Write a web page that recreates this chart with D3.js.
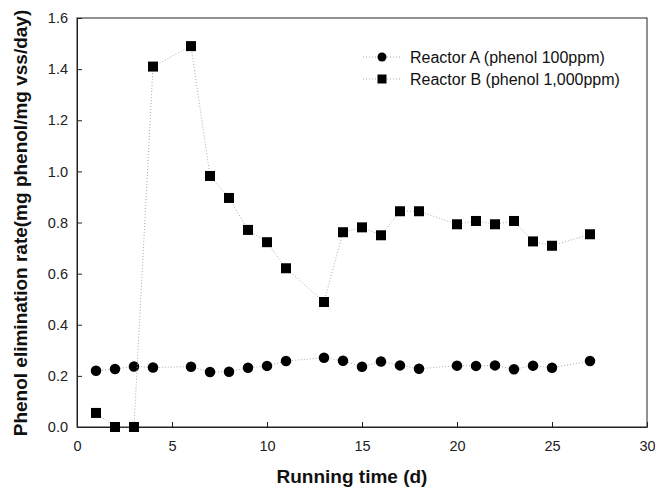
<!DOCTYPE html>
<html>
<head>
<meta charset="utf-8">
<script src="https://cdn.jsdelivr.net/npm/d3@7"></script>
<style>
  body { margin: 0; background: #fff; }
  svg { display: block; font-family: Arial, "Liberation Sans", sans-serif; }
</style>
</head>
<body>
<svg id="chart" width="655" height="488"></svg>
<script>
const days = [1, 2, 3, 4, 6, 7, 8, 9, 10, 11, 13, 14, 15, 16, 17, 18, 20, 21, 22, 23, 24, 25, 27];
const reactorA = [0.220, 0.227, 0.237, 0.233, 0.236, 0.215, 0.216, 0.232, 0.239, 0.258, 0.271, 0.259,
                  0.236, 0.256, 0.241, 0.228, 0.240, 0.239, 0.241, 0.226, 0.240, 0.232, 0.258];
const reactorB = [0.055, 0.0, 0.0, 1.41, 1.49, 0.982, 0.896, 0.771, 0.723, 0.621, 0.489, 0.762,
                  0.781, 0.750, 0.844, 0.844, 0.793, 0.806, 0.793, 0.806, 0.726, 0.709, 0.754];
const seriesNames = ['Reactor A (phenol 100ppm)', 'Reactor B (phenol 1,000ppm)'];
const xTicks = [0, 5, 10, 15, 20, 25, 30];
const yTicks = [0, 0.2, 0.4, 0.6, 0.8, 1.0, 1.2, 1.4, 1.6];

const svg = d3.select('#chart');
const margin = {left: 77, top: 18, right: 8, bottom: 61};
const width = 655 - margin.left - margin.right;
const height = 488 - margin.top - margin.bottom;

const x = d3.scaleLinear().domain([0, 30]).range([0, width]);
const y = d3.scaleLinear().domain([0, 1.6]).range([height, 0]);

const g = svg.append('g')
    .attr('transform', `translate(${margin.left},${margin.top})`);

// frame
g.append('rect')
    .attr('width', width)
    .attr('height', height)
    .style('fill', 'none')
    .style('stroke', '#222')
    .style('stroke-width', 1);

const xAxis = g.append('g')
    .attr('transform', `translate(0,${height})`)
    .call(d3.axisBottom(x).tickValues(xTicks).tickSizeInner(-5).tickSizeOuter(0).tickPadding(14));

const yAxis = g.append('g')
    .call(d3.axisLeft(y).tickValues(yTicks).tickFormat(d3.format('.1f'))
      .tickSizeInner(-5).tickSizeOuter(0).tickPadding(9));

[xAxis, yAxis].forEach((ax) => {
  ax.select('.domain').style('stroke', '#222');
  ax.selectAll('line').style('stroke', '#222');
  ax.selectAll('text')
      .style('font-size', '14.5px')
      .style('fill', '#222')
      .style('font-family', 'Arial, "Liberation Sans", sans-serif');
});

// axis titles
svg.append('text')
    .attr('x', 352)
    .attr('y', 483)
    .attr('text-anchor', 'middle')
    .style('font-size', '19px')
    .style('font-weight', 'bold')
    .style('fill', '#111')
    .text('Running time (d)');

svg.append('text')
    .attr('transform', 'translate(27,223) rotate(-90)')
    .attr('text-anchor', 'middle')
    .style('font-size', '19px')
    .style('font-weight', 'bold')
    .style('fill', '#111')
    .text('Phenol elimination rate(mg phenol/mg vss/day)');

const line = d3.line()
    .x((d) => x(d[0]))
    .y((d) => y(d[1]));

const series = [reactorA, reactorB].map((vals, i) => ({
  name: seriesNames[i],
  shape: i === 0 ? 'circle' : 'square',
  points: days.map((d, j) => [d, vals[j]])
}));

const drawMarker = (sel, shape, cx, cy, size) => {
  if (shape === 'circle') {
    sel.append('circle')
        .attr('cx', cx).attr('cy', cy).attr('r', size / 2)
        .style('fill', '#000');
  } else {
    sel.append('rect')
        .attr('x', cx - size / 2).attr('y', cy - size / 2)
        .attr('width', size).attr('height', size)
        .style('fill', '#000');
  }
};

series.forEach((s) => {
  g.append('path')
      .datum(s.points)
      .attr('d', line)
      .style('fill', 'none')
      .style('stroke', '#aaa')
      .style('stroke-width', 1)
      .style('stroke-dasharray', '1,2');
  const marks = g.append('g');
  s.points.forEach((p) => drawMarker(marks, s.shape, x(p[0]), y(p[1]), s.shape === 'circle' ? 10.5 : 10));
});

// legend
const legend = svg.append('g');
series.forEach((s, i) => {
  const cy = 57 + i * 22;
  legend.append('line')
      .attr('x1', 363).attr('x2', 400)
      .attr('y1', cy).attr('y2', cy)
      .style('stroke', '#aaa')
      .style('stroke-dasharray', '1,2');
  drawMarker(legend, s.shape, 382, cy, 9);
  legend.append('text')
      .attr('x', 410)
      .attr('y', cy + 6)
      .style('font-size', '16px')
      .style('fill', '#111')
      .text(s.name);
});
</script>
</body>
</html>
